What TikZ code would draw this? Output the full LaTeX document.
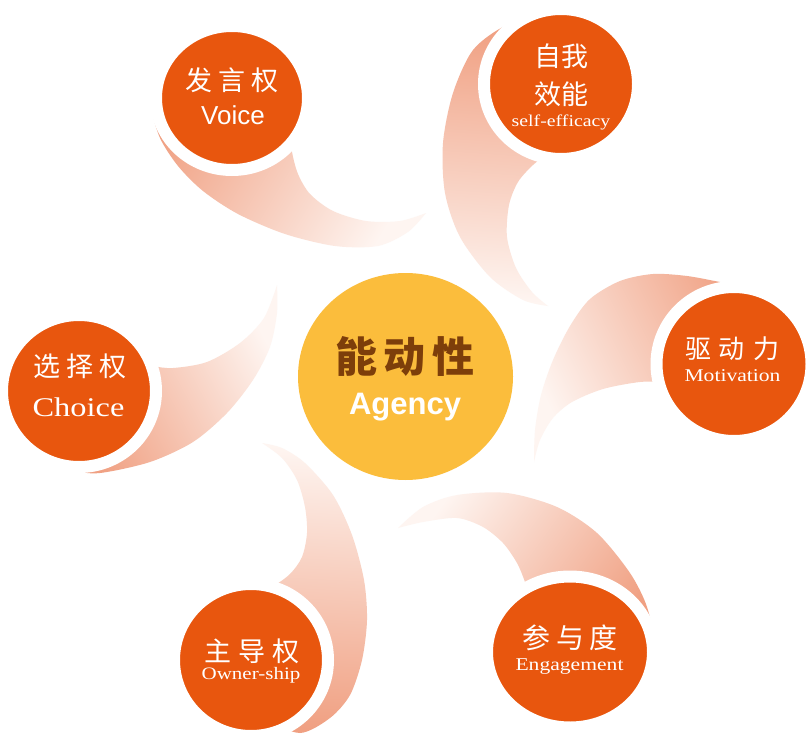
\documentclass[tikz,border=0pt]{standalone}
\usepackage{fontspec}
\setmainfont{Liberation Serif}
\newfontfamily\zhfont{Noto Sans CJK SC}
\newfontfamily\enserif[FakeStretch=1.2]{Liberation Serif}
\newfontfamily\ensans{Liberation Sans}
\usetikzlibrary{shapes.geometric}
\definecolor{bub}{RGB}{232,86,14}
\definecolor{sun}{RGB}{251,189,60}
\definecolor{agbrown}{RGB}{125,62,10}
\definecolor{swdark}{RGB}{240,160,130}
\definecolor{swlight}{RGB}{254,245,241}
\newcommand{\zg}{\hspace{6pt}}
\tikzset{
  swoosh/.style={top color=swdark, bottom color=swlight, draw=none},
  bubble/.style={ellipse, fill=bub, draw=white, line width=12pt, inner sep=0pt},
  hub/.style={ellipse, fill=sun, inner sep=0pt},
  zh/.style={text=white, inner sep=0pt, font=\zhfont\fontsize{27pt}{27pt}\selectfont},
  enS/.style={text=white, inner sep=0pt, anchor=base, font=\enserif\fontsize{18pt}{18pt}\selectfont},
  enA/.style={text=white, inner sep=0pt, anchor=base, font=\ensans\fontsize{26pt}{26pt}\selectfont},
}
\begin{document}
\begin{tikzpicture}[x=1pt,y=-1pt]
\useasboundingbox (0,0) rectangle (808,746);
\fill[white] (0,0) rectangle (808,746);
% swooshes
\path[swoosh, shading angle=59]
  plot[smooth] coordinates {(205,60) (163,85) (153,110) (160,138) (178,166) (203,191) (238,214) (285,234) (335,246) (378,246) (408,232) (426,213)}
  -- plot[smooth] coordinates {(426,213) (400,221) (366,221) (333,211) (310,194) (298,174) (292,152) (290,132)} -- cycle;
\path[swoosh, shading angle=-4]
  plot[smooth] coordinates {(535,22) (505,26) (473,50) (453,93) (443,143) (445,193) (460,237) (490,277) (523,300) (548,306)}
  -- plot[smooth] coordinates {(548,306) (532,292) (516,268) (507,237) (509,205) (518,182) (533,165) (550,152)} -- cycle;
\path[swoosh, shading angle=-64]
  plot[smooth] coordinates {(770,300) (753,288) (720,282) (687,276) (653,274) (620,281) (590,299) (570,326) (553,360) (541,395) (535,430) (534,462)}
  -- plot[smooth] coordinates {(534,462) (540,440) (553,418) (572,402) (603,389) (640,382) (668,382) (700,384)} -- cycle;
\path[swoosh, shading angle=-126]
  plot[smooth] coordinates {(630,655) (652,640) (647,607) (630,573) (597,533) (557,507) (507,493) (457,495) (423,507) (398,528)}
  -- plot[smooth] coordinates {(398,528) (423,522) (457,518) (483,527) (503,543) (517,563) (525,582) (532,605)} -- cycle;
\path[swoosh, shading angle=177]
  plot[smooth] coordinates {(265,720) (300,733) (330,718) (350,695) (362,660) (367,620) (364,580) (352,535) (333,495) (305,463) (282,448) (262,443)}
  -- plot[smooth] coordinates {(262,443) (282,458) (297,480) (305,507) (307,533) (302,557) (290,574) (272,587) (250,598)} -- cycle;
\path[swoosh, shading angle=118]
  plot[smooth] coordinates {(60,455) (75,470) (100,473) (150,462) (193,442) (227,413) (253,380) (270,347) (277,313) (277,285)}
  -- plot[smooth] coordinates {(277,285) (264,318) (240,343) (207,362) (173,368) (152,366) (130,362)} -- cycle;
% circles
\node[bubble, minimum width=152pt, minimum height=144pt] (voice) at (232,98) {};
\node[bubble, minimum width=154pt, minimum height=150pt] (selfeff) at (561,84) {};
\node[bubble, minimum width=155pt, minimum height=154pt] (motiv) at (734,364) {};
\node[bubble, minimum width=166pt, minimum height=151pt] (engage) at (570,652) {};
\node[bubble, minimum width=154pt, minimum height=152pt] (owner) at (251,660) {};
\node[bubble, minimum width=154pt, minimum height=152pt] (choice) at (79,391) {};
\node[hub, minimum width=215pt, minimum height=207pt] (agency) at (405.5,376.5) {};
% texts
\node[zh] (voiceZh) at (232,80.5) {发\zg 言\zg 权};
\node[enA] (voiceEn) at (233,125) {Voice};
\node[zh] (selfZhA) at (561,56) {自我};
\node[zh] (selfZhB) at (561,94) {效能};
\node[enS, font=\enserif\fontsize{16.5pt}{16.5pt}\selectfont] (selfEn) at (561,127) {self-efficacy};
\node[zh, font=\zhfont\fontsize{26pt}{26pt}\selectfont] (motivZh) at (732,349) {驱\hspace{8pt}动\hspace{8pt}力};
\node[enS] (motivEn) at (732.5,381.5) {Motivation};
\node[zh, font=\zhfont\fontsize{28pt}{28pt}\selectfont] (engageZh) at (570,638) {参\zg 与\zg 度};
\node[enS] (engageEn) at (569.5,670) {Engagement};
\node[zh] (ownerZh) at (252,651) {主\hspace{7pt}导\hspace{7pt}权};
\node[enS, font=\enserif\fontsize{17.5pt}{17.5pt}\selectfont] (ownerEn) at (251,679.5) {Owner-ship};
\node[zh] (choiceZh) at (80,366) {选\zg 择\zg 权};
\node[enS, font=\enserif\fontsize{27pt}{27pt}\selectfont] (choiceEn) at (78.5,416) {Choice};
\node[inner sep=0pt, text=agbrown, font=\zhfont\bfseries\fontsize{42pt}{42pt}\selectfont] (agencyZh) at (405,356) {能\hspace{7pt}动\hspace{7pt}性};
\node[inner sep=0pt, anchor=base, text=white, font=\ensans\bfseries\fontsize{31pt}{31pt}\selectfont] (agencyEn) at (405,414) {Agency};
\end{tikzpicture}
\end{document}
